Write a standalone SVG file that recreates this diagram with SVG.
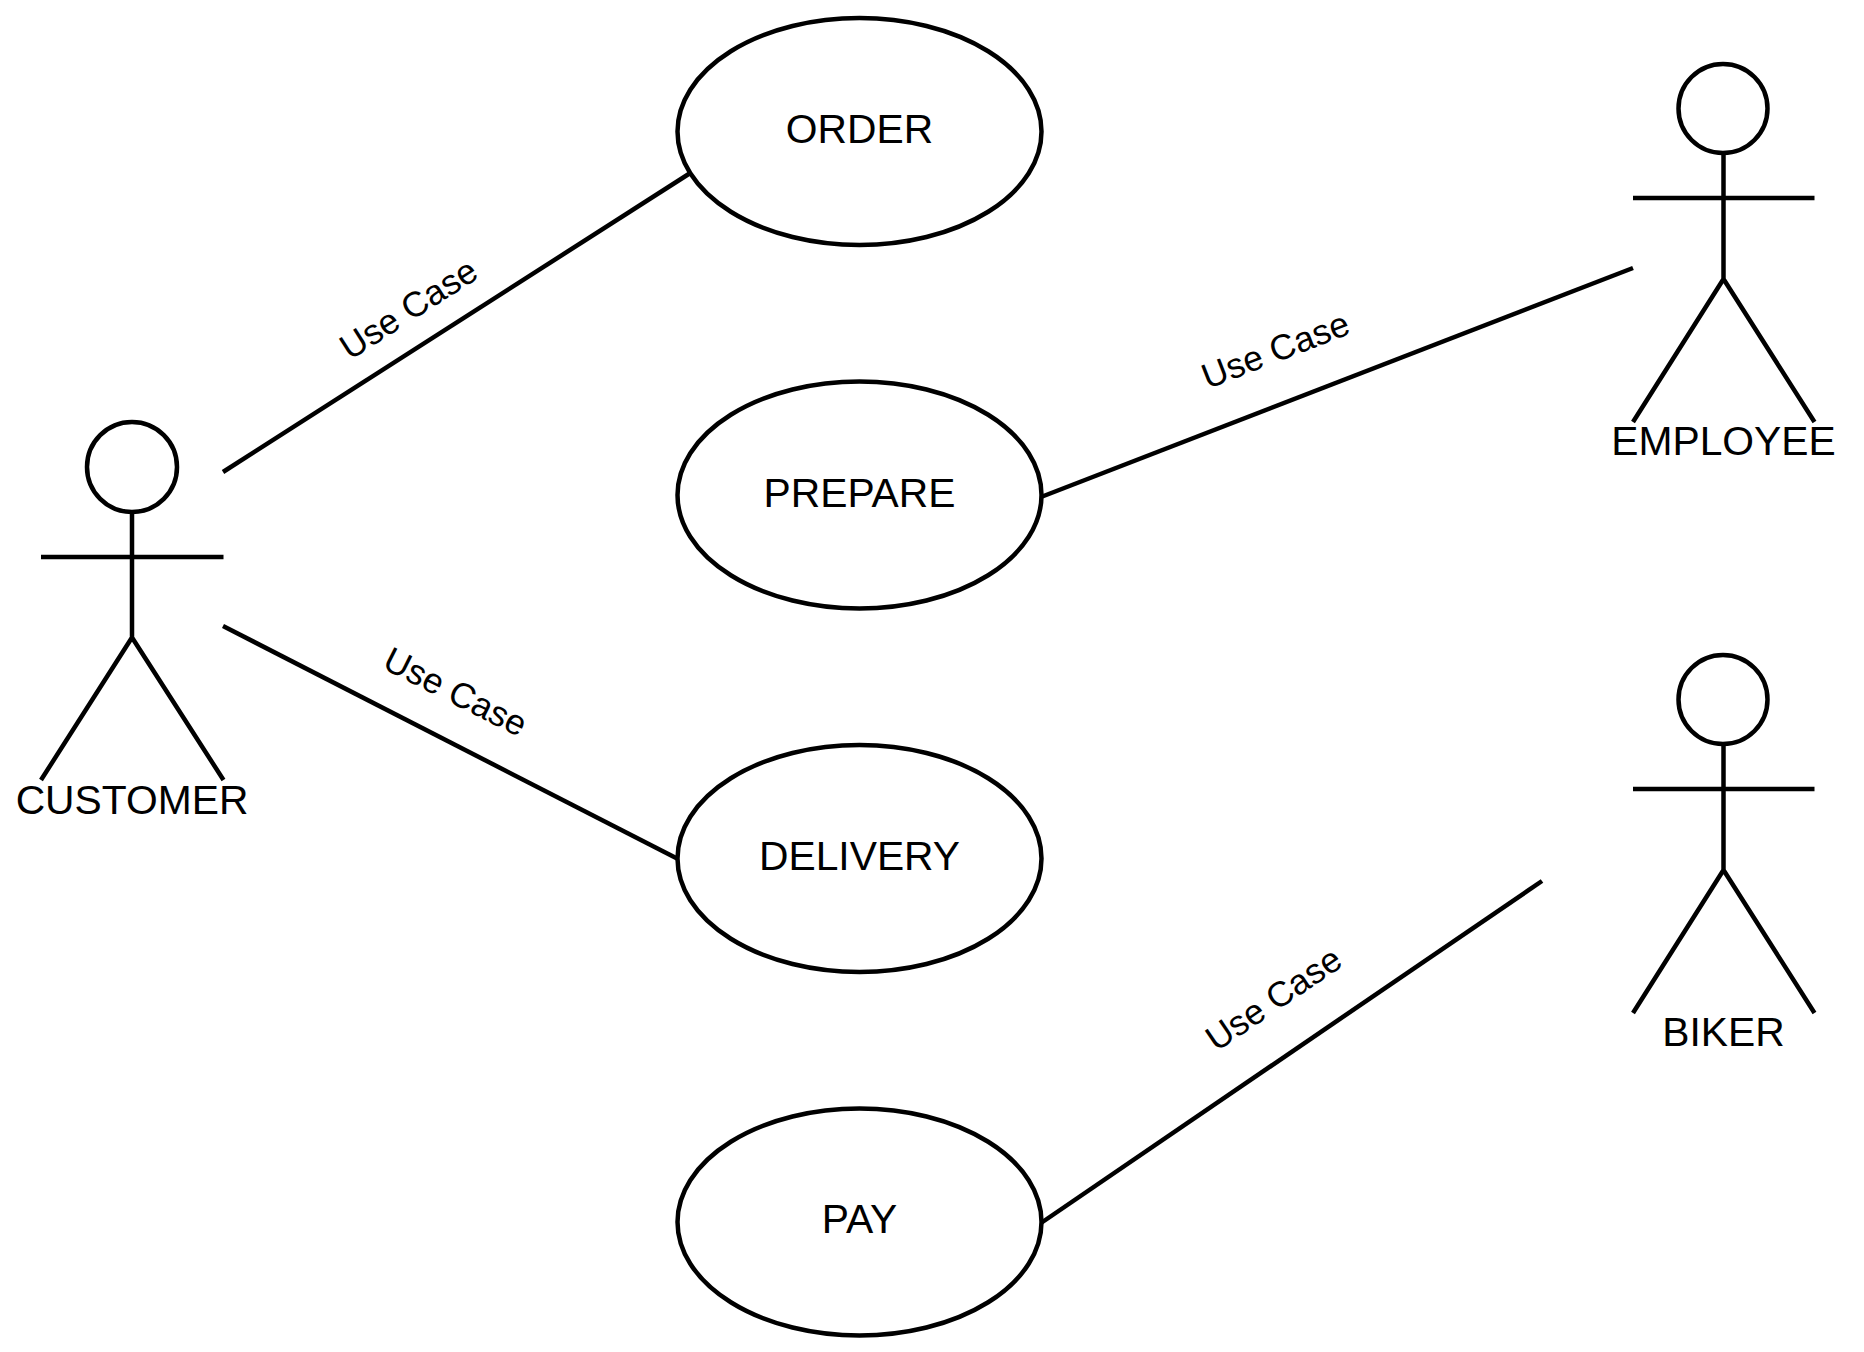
<svg xmlns="http://www.w3.org/2000/svg" width="1864" height="1352" viewBox="0 0 1864 1352">
<style>
.s{fill:none;stroke:#000;stroke-width:4.5}
.e{fill:#fff;stroke:#000;stroke-width:4.5}
text{font-family:"Liberation Sans",Arial,sans-serif;fill:#000;text-anchor:middle}
.n{font-size:40.8px}
.l{font-size:35.3px}
</style>
<rect width="1864" height="1352" fill="#fff"/>
<g id="connectors">
<line class="s" x1="223" y1="472" x2="695" y2="170"/>
<line class="s" x1="223" y1="626" x2="680" y2="860"/>
<line class="s" x1="1041" y1="497" x2="1633" y2="268"/>
<line class="s" x1="1041" y1="1223" x2="1542" y2="881"/>
<text class="l" transform="translate(408,308) rotate(-32.6)" y="13">Use Case</text>
<text class="l" transform="translate(456,691) rotate(26.7)" y="13">Use Case</text>
<text class="l" transform="translate(1275,349) rotate(-21.2)" y="13">Use Case</text>
<text class="l" transform="translate(1273,998) rotate(-34.2)" y="13">Use Case</text>
</g>
<g id="order"><ellipse class="e" cx="859.5" cy="131.5" rx="182" ry="113.5"/><text class="n" x="859.5" y="143">ORDER</text></g>
<g id="prepare"><ellipse class="e" cx="859.5" cy="495" rx="182" ry="113.5"/><text class="n" x="859.5" y="506.5">PREPARE</text></g>
<g id="delivery"><ellipse class="e" cx="859.5" cy="858.5" rx="182" ry="113.5"/><text class="n" x="859.5" y="870">DELIVERY</text></g>
<g id="pay"><ellipse class="e" cx="859.5" cy="1222" rx="182" ry="113.5"/><text class="n" x="859.5" y="1233">PAY</text></g>
<g id="customer"><circle class="s" cx="132" cy="467" r="45"/><path class="s" d="M132 512V637.5M41 557H223.5M41 780L132 637.5L223.5 780"/><text class="n" x="132" y="814">CUSTOMER</text></g>
<g id="employee"><circle class="s" cx="1723" cy="108.5" r="44.5"/><path class="s" d="M1723.5 153V279M1633 198H1814.5M1633 422L1723.5 279L1814.5 422"/><text class="n" x="1723.5" y="455">EMPLOYEE</text></g>
<g id="biker"><circle class="s" cx="1723" cy="699.5" r="44.5"/><path class="s" d="M1723.5 744V870M1633 789H1814.5M1633 1013L1723.5 870L1814.5 1013"/><text class="n" x="1723.5" y="1046">BIKER</text></g>
</svg>
